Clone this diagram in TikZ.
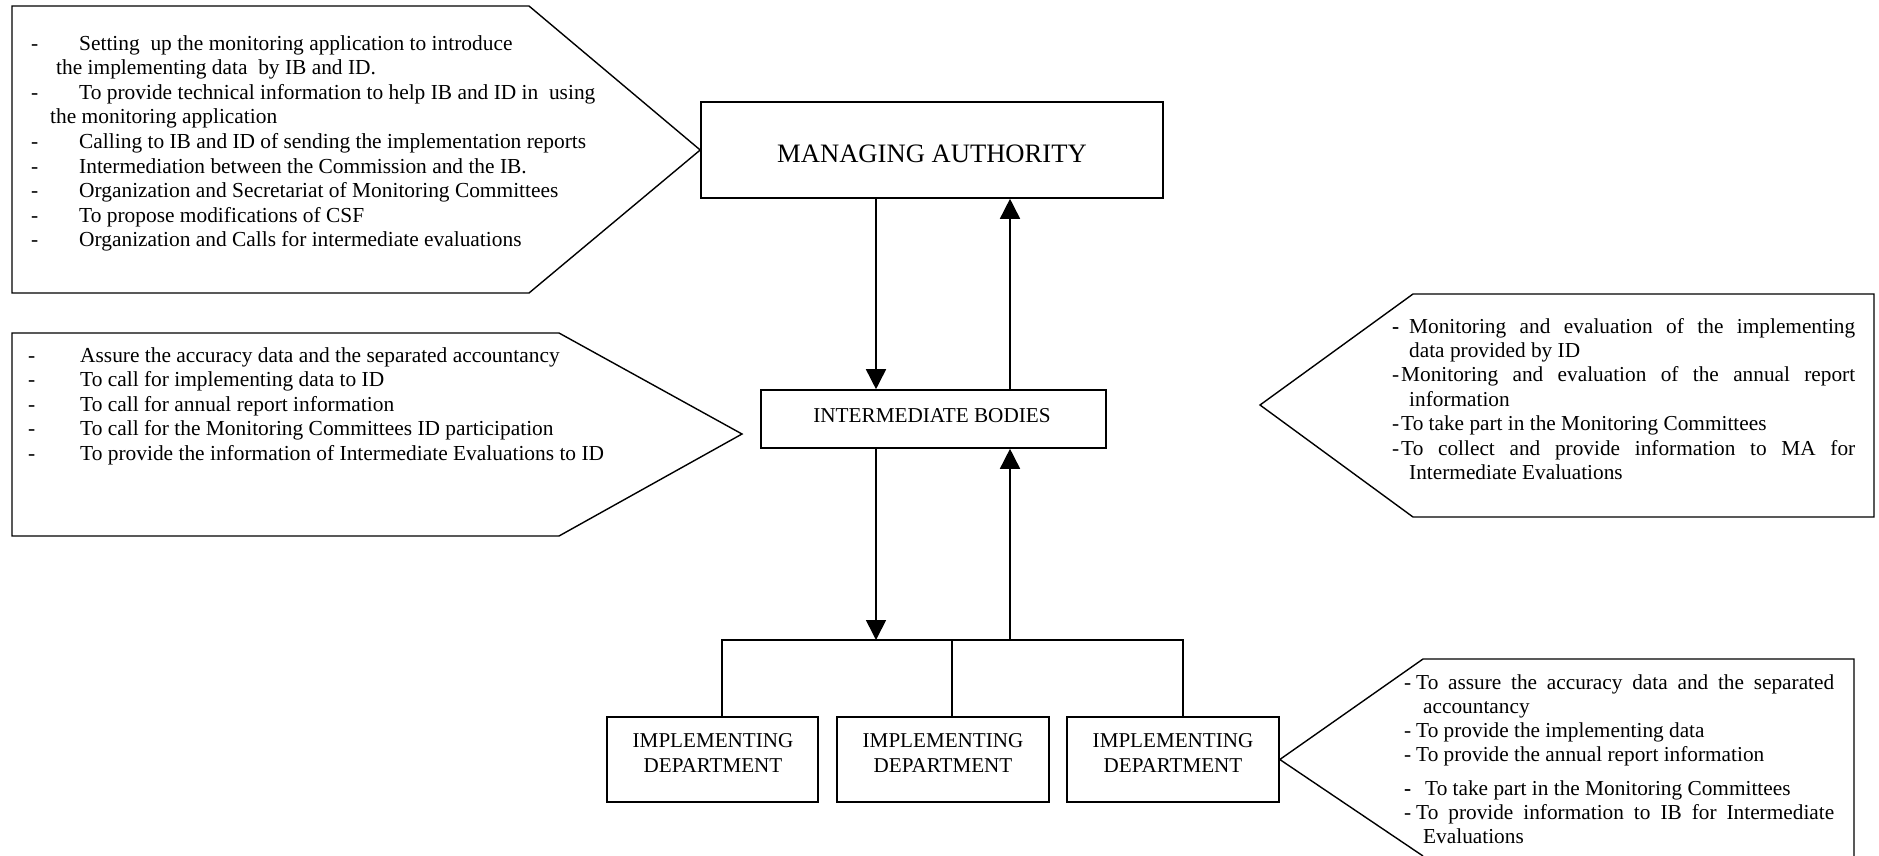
\documentclass[tikz,border=0pt]{standalone}
\usepackage{fontspec}
\setmainfont{Liberation Serif}
\usetikzlibrary{arrows.meta}
\begin{document}
\begin{tikzpicture}[x=1pt,y=-1pt,
  box/.style={draw, line width=1.6pt, inner sep=0pt, rectangle},
  panel/.style={draw, line width=1.4pt, line join=miter},
  conn/.style={line width=1.6pt},
  arr/.style={line width=1.6pt, -{Triangle[width=20pt,length=20pt]}},
  txt/.style={inner sep=0pt, anchor=base west, font=\fontsize{21.4}{24.6}\selectfont},
  lbl/.style={inner sep=0pt, anchor=base},
]
\useasboundingbox (0,0) rectangle (1879,855);

% main boxes
\node[box, minimum width=462pt, minimum height=96pt] (ma) at (932,150) {};
\node[lbl, font=\fontsize{26.6}{30}\selectfont] (mat) at (932,162) {MANAGING AUTHORITY};

\node[box, minimum width=345pt, minimum height=58pt] (ib) at (933.5,419) {};
\node[lbl, font=\fontsize{21.2}{25}\selectfont] (ibt) at (932,422) {INTERMEDIATE BODIES};

\node[box, minimum width=211pt, minimum height=85pt] (id1) at (712.5,759.5) {};
\node[box, minimum width=212pt, minimum height=85pt] (id2) at (943,759.5) {};
\node[box, minimum width=212pt, minimum height=85pt] (id3) at (1173,759.5) {};
\node[lbl, font=\fontsize{21.1}{25}\selectfont] (id1t) at (713,747) {\begin{tabular}[t]{@{}c@{}}IMPLEMENTING\\DEPARTMENT\end{tabular}};
\node[lbl, font=\fontsize{21.1}{25}\selectfont] (id2t) at (943,747) {\begin{tabular}[t]{@{}c@{}}IMPLEMENTING\\DEPARTMENT\end{tabular}};
\node[lbl, font=\fontsize{21.1}{25}\selectfont] (id3t) at (1173,747) {\begin{tabular}[t]{@{}c@{}}IMPLEMENTING\\DEPARTMENT\end{tabular}};

% connectors
\coordinate (j1) at (876,640);
\coordinate (j2) at (1010,640);
\coordinate (bl) at (722,640);
\coordinate (bm) at (952,640);
\coordinate (br) at (1183,640);
\draw[arr] (ma.south -| j1) -- (ib.north -| j1);
\draw[arr] (ib.north -| j2) -- (ma.south -| j2);
\draw[arr] (ib.south -| j1) -- (j1);
\draw[arr] (j2) -- (ib.south -| j2);
\draw[conn] (id1.north -| bl) -- (bl) -- (br) -- (id3.north -| br);
\draw[conn] (bm) -- (id2.north -| bm);

% panels
\draw[panel] (529,6) -- (12,6) -- (12,293) -- (529,293) -- (ma.west) -- cycle;
\draw[panel] (559,333) -- (12,333) -- (12,536) -- (559,536) -- (742,434) -- cycle;
\draw[panel] (1413,294) -- (1874,294) -- (1874,517) -- (1413,517) -- (1260,405) -- cycle;
\draw[panel] (1423,856) -- (id3.east) -- (1423,659) -- (1854,659) -- (1854,856);

% panel texts
\node[txt] (p1) at (31,50) {\begin{tabular}[t]{@{}l@{}}
\makebox[48pt][l]{-}Setting\ \ up the monitoring application to introduce\\
\hspace*{25pt}the implementing data\ \ by IB and ID.\\
\makebox[48pt][l]{-}To provide technical information to help IB and ID in\ \ using\\
\hspace*{19pt}the monitoring application\\
\makebox[48pt][l]{-}Calling to IB and ID of sending the implementation reports\\
\makebox[48pt][l]{-}Intermediation between the Commission and the IB.\\
\makebox[48pt][l]{-}Organization and Secretariat of Monitoring Committees\\
\makebox[48pt][l]{-}To propose modifications of CSF\\
\makebox[48pt][l]{-}Organization and Calls for intermediate evaluations
\end{tabular}};

\node[txt, font=\fontsize{21.4}{24.5}\selectfont] (p2) at (28,362) {\begin{tabular}[t]{@{}l@{}}
\makebox[52pt][l]{-}Assure the accuracy data and the separated accountancy\\
\makebox[52pt][l]{-}To call for implementing data to ID\\
\makebox[52pt][l]{-}To call for annual report information\\
\makebox[52pt][l]{-}To call for the Monitoring Committees ID participation\\
\makebox[52pt][l]{-}To provide the information of Intermediate Evaluations to ID
\end{tabular}};

\node[txt, font=\fontsize{21.3}{24.4}\selectfont] (p3) at (1392,333) {\begin{tabular}[t]{@{}l@{}}
\makebox[17pt][l]{\textbf{-}}\makebox[446pt][s]{Monitoring and evaluation of the implementing}\\
\hspace*{17pt}data provided by ID\\
\makebox[9pt][l]{-}\makebox[454pt][s]{Monitoring and evaluation of the annual report}\\
\hspace*{17pt}information\\
\makebox[9pt][l]{-}To take part in the Monitoring Committees\\
\makebox[9pt][l]{-}\makebox[454pt][s]{To collect and provide information to MA for}\\
\hspace*{17pt}Intermediate Evaluations
\end{tabular}};

\node[txt, font=\fontsize{21.3}{24}\selectfont] (p4) at (1404,689) {\begin{tabular}[t]{@{}l@{}}
\makebox[12pt][l]{-}\makebox[418pt][s]{To assure the accuracy data and the separated}\\
\hspace*{19pt}accountancy\\
\makebox[12pt][l]{-}To provide the implementing data\\
\makebox[12pt][l]{-}To provide the annual report information\\[10pt]
\makebox[21pt][l]{\textbf{-}}To take part in the Monitoring Committees\\
\makebox[12pt][l]{-}\makebox[418pt][s]{To provide information to IB for Intermediate}\\
\hspace*{19pt}Evaluations
\end{tabular}};
\end{tikzpicture}
\end{document}
